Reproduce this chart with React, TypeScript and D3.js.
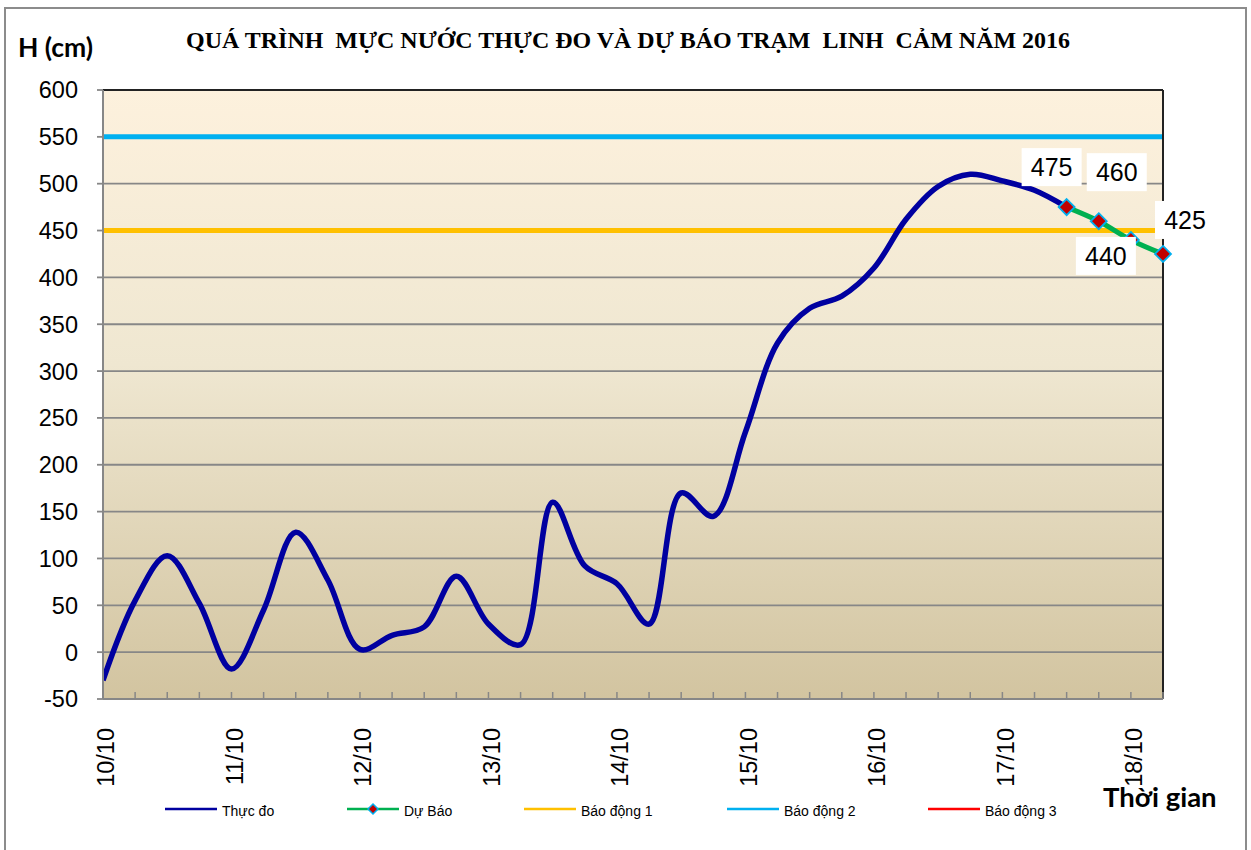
import React from "react";
import * as d3 from "d3";

// mực nước thực đo, 4 lần/ngày (cm), từ 10/10 đến 17/10
const thucDo = [
  -30, 55, 103, 52, -18, 45, 128, 77, 3, 18, 27, 81, 30, 8, 160, 92, 73, 30,
  170, 145, 235, 330, 367, 380, 410, 462, 497, 510, 503, 493, 475,
];
// dự báo (bắt đầu từ điểm thực đo cuối)
const duBaoStart = 30;
const duBao = [475, 460, 440, 425];
const days = ["10/10", "11/10", "12/10", "13/10", "14/10", "15/10", "16/10", "17/10", "18/10"];
const stepsPerDay = 4;
const nPoints = duBaoStart + duBao.length;
const baoDong1 = 450;
const baoDong2 = 550;
const baoDong3 = 650;
const yTicks = [600, 550, 500, 450, 400, 350, 300, 250, 200, 150, 100, 50, 0, -50];

const legendItems = [
  { name: "Thực đo", color: "#0000A0", marker: false },
  { name: "Dự Báo", color: "#00B050", marker: true },
  { name: "Báo động 1", color: "#FFC000", marker: false },
  { name: "Báo động 2", color: "#00B0F0", marker: false },
  { name: "Báo động 3", color: "#FF0000", marker: false },
];

const W = 1251;
const H = 850;
const left = 103;
const right = 1163;
const top = 90;
const bottom = 699;

// vị trí nhãn số liệu so với điểm
const labelOffsets = [
  { dx: -15, dy: -40 },
  { dx: 18, dy: -49 },
  { dx: -25, dy: 16 },
  { dx: 22, dy: -34 },
];

const App = () => {
  const idx = d3.range(nPoints);
  const x = d3.scalePoint<number>().domain(idx).range([left, right]);
  const y = d3.scaleLinear().domain([-50, 600]).range([bottom, top]);

  const line = d3
    .line<number>()
    .x((_, i) => x(i) as number)
    .y((d) => y(d))
    .curve(d3.curveCatmullRom.alpha(0.5));
  const lineF = d3
    .line<number>()
    .x((_, i) => x(i + duBaoStart) as number)
    .y((d) => y(d))
    .curve(d3.curveCatmullRom.alpha(0.5));

  const legendX = [165, 347, 524, 727, 928];
  const font = "Arial, 'Liberation Sans', sans-serif";

  return (
    <svg width={W} height={H} style={{ position: "absolute", left: 0, top: 0, background: "#fff" }}>
      <defs>
        <linearGradient id="bg" x1="0" y1="0" x2="0" y2="1">
          <stop offset="0%" stopColor="#FDF1DD" />
          <stop offset="45%" stopColor="#EFE7D1" />
          <stop offset="100%" stopColor="#D2C4A0" />
        </linearGradient>
        <clipPath id="clip">
          <rect x={left} y={top} width={right - left} height={bottom - top} />
        </clipPath>
      </defs>
      <rect x={5} y={8} width={1241} height={860} fill="#fff" stroke="#8c8c8c" strokeWidth={2} />

      <rect x={left} y={top} width={right - left} height={bottom - top} fill="url(#bg)" />
      {yTicks.map((t) => (
        <g key={t}>
          {t !== -50 && t !== 600 && (
            <line x1={left} x2={right} y1={y(t)} y2={y(t)} stroke="#878787" strokeWidth={1.8} />
          )}
          <line x1={left - 6} x2={left} y1={y(t)} y2={y(t)} stroke="#878787" strokeWidth={1.8} />
          <text x={78} y={y(t)} dy="0.36em" textAnchor="end" fontFamily={font} fontSize={23.5} fill="#000">
            {t}
          </text>
        </g>
      ))}

      <g clipPath="url(#clip)">
        <line x1={left} x2={right} y1={y(baoDong2)} y2={y(baoDong2)} stroke="#00B0F0" strokeWidth={5} />
        <line x1={left} x2={right} y1={y(baoDong1)} y2={y(baoDong1)} stroke="#FFC000" strokeWidth={5} />
        <line x1={left} x2={right} y1={y(baoDong3)} y2={y(baoDong3)} stroke="#FF0000" strokeWidth={5} />
        <path d={line(thucDo) || ""} fill="none" stroke="#0000A0" strokeWidth={5.5} strokeLinejoin="round" />
        <path d={lineF(duBao) || ""} fill="none" stroke="#00B050" strokeWidth={5} strokeLinejoin="round" />
      </g>

      {/* plot frame */}
      <line x1={left} x2={right} y1={top} y2={top} stroke="#222" strokeWidth={2} />
      <line x1={right} x2={right} y1={top} y2={bottom} stroke="#222" strokeWidth={2} />
      <line x1={left} x2={left} y1={top} y2={bottom} stroke="#878787" strokeWidth={2} />
      <line x1={left} x2={right} y1={bottom} y2={bottom} stroke="#878787" strokeWidth={2} />

      {idx.map((i) => (
        <line key={i} x1={x(i)} x2={x(i)} y1={bottom - 7} y2={bottom} stroke="#878787" strokeWidth={1.5} />
      ))}
      {days.map((d, k) => {
        const px = (x(k * stepsPerDay) as number) + 3;
        return (
          <text
            key={d}
            transform={`translate(${px},728) rotate(-90)`}
            dy="0.36em"
            textAnchor="end"
            fontFamily={font}
            fontSize={23.5}
            fill="#000"
          >
            {d}
          </text>
        );
      })}

      {duBao.map((v, i) => {
        const cx = x(i + duBaoStart) as number;
        const cy = y(v);
        return (
          <path
            key={"m" + i}
            d={`M${cx},${cy - 8}L${cx + 8},${cy}L${cx},${cy + 8}L${cx - 8},${cy}Z`}
            fill="#C00000"
            stroke="#00B0F0"
            strokeWidth={1.8}
          />
        );
      })}
      {duBao.map((v, i) => {
        const cx = (x(i + duBaoStart) as number) + labelOffsets[i].dx;
        const cy = y(v) + labelOffsets[i].dy;
        return (
          <g key={"l" + i}>
            <rect x={cx - 30} y={cy - 19} width={60} height={38} fill="#fff" />
            <text x={cx} y={cy} dy="0.36em" textAnchor="middle" fontFamily={font} fontSize={25} fill="#000">
              {v}
            </text>
          </g>
        );
      })}

      <text
        x={628}
        y={48}
        textAnchor="middle"
        fontFamily="'Liberation Serif', 'Times New Roman', serif"
        fontWeight="bold"
        fontSize={24}
        textLength={884}
        lengthAdjust="spacingAndGlyphs"
        style={{ whiteSpace: "pre" }}
      >
        QUÁ TRÌNH  MỰC NƯỚC THỰC ĐO VÀ DỰ BÁO TRẠM  LINH  CẢM NĂM 2016
      </text>
      <text x={18} y={57} fontFamily="Lato, 'Open Sans', sans-serif" fontWeight="bold" fontSize={26.5}>
        H (cm)
      </text>
      <text x={1103} y={807} fontFamily="Lato, 'Open Sans', sans-serif" fontWeight="bold" fontSize={27.5}>
        Thời gian
      </text>

      {legendItems.map((it, k) => {
        const lx = legendX[k];
        return (
          <g key={it.name}>
            <line x1={lx} x2={lx + 52} y1={809} y2={809} stroke={it.color} strokeWidth={2.5} />
            {it.marker && (
              <path
                d={`M${lx + 26},${809 - 5}L${lx + 31},809L${lx + 26},${809 + 5}L${lx + 21},809Z`}
                fill="#C00000"
                stroke="#00B0F0"
                strokeWidth={1.5}
              />
            )}
            <text x={lx + 57} y={816} fontFamily={font} fontSize={14} fill="#000">
              {it.name}
            </text>
          </g>
        );
      })}
    </svg>
  );
};

export default App;
